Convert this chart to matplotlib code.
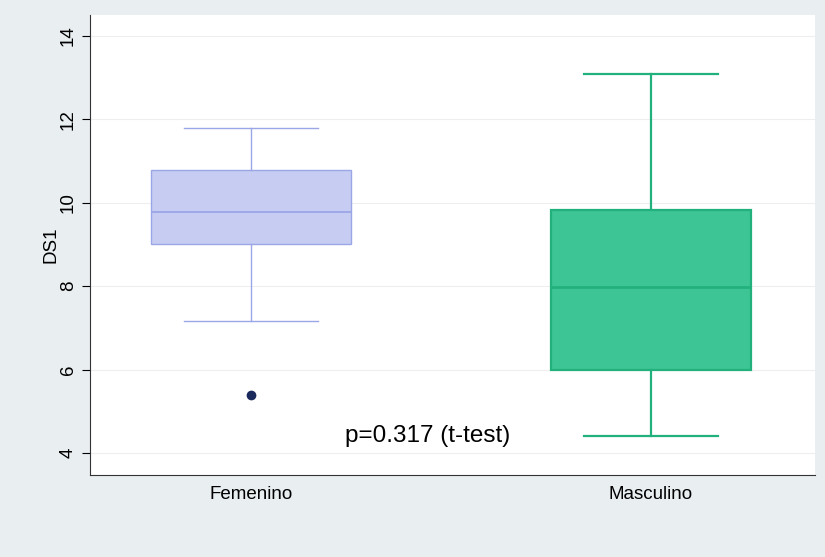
import matplotlib
matplotlib.use("Agg")
from matplotlib import pyplot as plt

plt.rcParams['font.family'] = ['Liberation Sans', 'DejaVu Sans']

# data
groups = ['Femenino', 'Masculino']
whislo = [7.17, 4.40]
q1 = [9.02, 6.00]
med = [9.78, 7.99]
q3 = [10.79, 9.83]
whishi = [11.80, 13.09]
fliers = [[5.40], []]
pvalue_text = "p=0.317 (t-test)"

fills = ['#c7cdf2', '#3ec596']
edges = ['#9ba6e6', '#22b07c']

fig = plt.figure(figsize=(8.25, 5.57), dpi=100)
fig.patch.set_facecolor('#e9eef1')
ax = fig.add_axes([0.109, 0.147, 0.879, 0.826])
ax.set_facecolor('white')

for i in range(len(groups)):
    st = [dict(label=groups[i], whislo=whislo[i], q1=q1[i], med=med[i],
               q3=q3[i], whishi=whishi[i], fliers=fliers[i])]
    lw = 1.0 if i == 0 else 1.6
    ax.bxp(st, positions=[i + 1], widths=0.5, capwidths=0.333,
           patch_artist=True,
           boxprops=dict(facecolor=fills[i], edgecolor=edges[i], linewidth=lw),
           medianprops=dict(color=edges[i], linewidth=lw + 0.3),
           whiskerprops=dict(color=edges[i], linewidth=lw),
           capprops=dict(color=edges[i], linewidth=lw),
           flierprops=dict(marker='o', markersize=6, markerfacecolor='#1b2a5c',
                           markeredgecolor='#1b2a5c'))

ax.set_xlim(0.5975, 2.41)
ax.set_ylim(3.47, 14.5)
ax.set_yticks([4, 6, 8, 10, 12, 14])
ax.set_xticks([1, 2])
ax.set_xticklabels(groups, fontsize=13.5)
ax.tick_params(axis='x', length=0, pad=8)
ax.tick_params(axis='y', labelrotation=90, labelsize=13.5, length=6)
for lbl in ax.get_yticklabels():
    lbl.set_verticalalignment('center')
ax.set_ylabel('DS1', fontsize=13.5, labelpad=0)
ax.grid(axis='y', color='#eeeeee', linewidth=0.8)
ax.set_axisbelow(True)
for s in ['top', 'right']:
    ax.spines[s].set_visible(False)
ax.spines['left'].set_color('#333333')
ax.spines['bottom'].set_color('#333333')

ax.text(1.235, 4.40, pvalue_text, fontsize=17.5, ha='left', va='center')

fig.savefig('out.png', dpi=100, facecolor=fig.get_facecolor())
